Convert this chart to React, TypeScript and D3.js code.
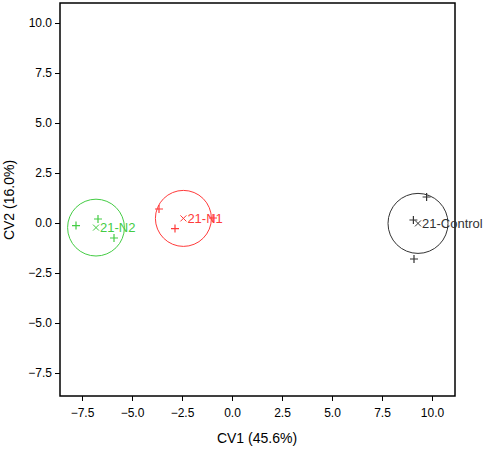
import React from 'react';
import * as d3 from 'd3';

const groups = ['21-N2', '21-N1', '21-Control'];
const colors = ['#44cc44', '#ff3b3b', '#333333'];
const centroidsX = [-6.8, -2.43, 9.3];
const centroidsY = [-0.23, 0.23, -0.02];
const radii = [1.42, 1.4, 1.5];
// observations per group
const pointsX = [[-7.8, -6.7, -5.9], [-3.65, -2.85, -0.95], [9.73, 9.07, 9.1]];
const pointsY = [[-0.13, 0.2, -0.75], [0.7, -0.28, 0.25], [1.3, 0.15, -1.8]];
const ticks = [-7.5, -5.0, -2.5, 0.0, 2.5, 5.0, 7.5, 10.0];

const App: React.FC = () => {
  const svgRef = React.useRef<SVGSVGElement>(null);
  const width = 489;
  const height = 452;

  React.useEffect(() => {
    const x = d3.scaleLinear().domain([-8.6, 11.15]).range([60, 455]);
    const y = d3.scaleLinear().domain([-8.65, 11]).range([396, 3]);
    const svg = d3.select(svgRef.current);
    svg.selectAll('*').remove();
    svg.style('font-family', 'Liberation Sans, Arial, sans-serif');

    const xAxis = svg.append('g').attr('transform', 'translate(0,396)')
      .call(d3.axisBottom(x).tickValues(ticks).tickSize(5).tickFormat(d3.format('.1f')));
    xAxis.select('.domain').remove();
    xAxis.selectAll('text').attr('font-size', 12).attr('dy', '1.1em').attr('fill', '#000');
    const yAxis = svg.append('g').attr('transform', 'translate(60,0)')
      .call(d3.axisLeft(y).tickValues([...ticks].reverse()).tickSize(5).tickFormat(d3.format('.1f')));
    yAxis.select('.domain').remove();
    yAxis.selectAll('text').attr('font-size', 12).attr('fill', '#000');

    svg.append('rect').attr('x', 60).attr('y', 3).attr('width', 395).attr('height', 393)
      .attr('fill', 'none').attr('stroke', '#000').attr('stroke-width', 1.5);

    const k = x(1) - x(0);
    groups.forEach((g, i) => {
      const c = colors[i];
      const cx = x(centroidsX[i]);
      const cy = y(centroidsY[i]);
      svg.append('circle').attr('cx', cx).attr('cy', cy).attr('r', radii[i] * k)
        .attr('fill', 'none').attr('stroke', c).attr('stroke-width', 1);
      pointsX[i].forEach((px, j) => {
        const sx = x(px);
        const sy = y(pointsY[i][j]);
        svg.append('path').attr('d', `M${sx - 4},${sy}H${sx + 4}M${sx},${sy - 4}V${sy + 4}`)
          .attr('stroke', c).attr('stroke-width', 1.2);
      });
      svg.append('path').attr('d', `M${cx - 3},${cy - 3}L${cx + 3},${cy + 3}M${cx - 3},${cy + 3}L${cx + 3},${cy - 3}`)
        .attr('stroke', c).attr('stroke-width', 1);
      svg.append('text').attr('x', cx + 4).attr('y', cy + 4.5).attr('font-size', 13)
        .attr('fill', c).text(g);
    });

    svg.append('text').attr('x', 257).attr('y', 443).attr('text-anchor', 'middle')
      .attr('font-size', 14).text('CV1 (45.6%)');
    svg.append('text').attr('transform', 'translate(14,200) rotate(-90)').attr('text-anchor', 'middle')
      .attr('font-size', 14).text('CV2 (16.0%)');
  }, []);

  return <svg ref={svgRef} width={width} height={height} style={{ position: 'absolute', left: 0, top: 0 }} />;
};

export default App;
